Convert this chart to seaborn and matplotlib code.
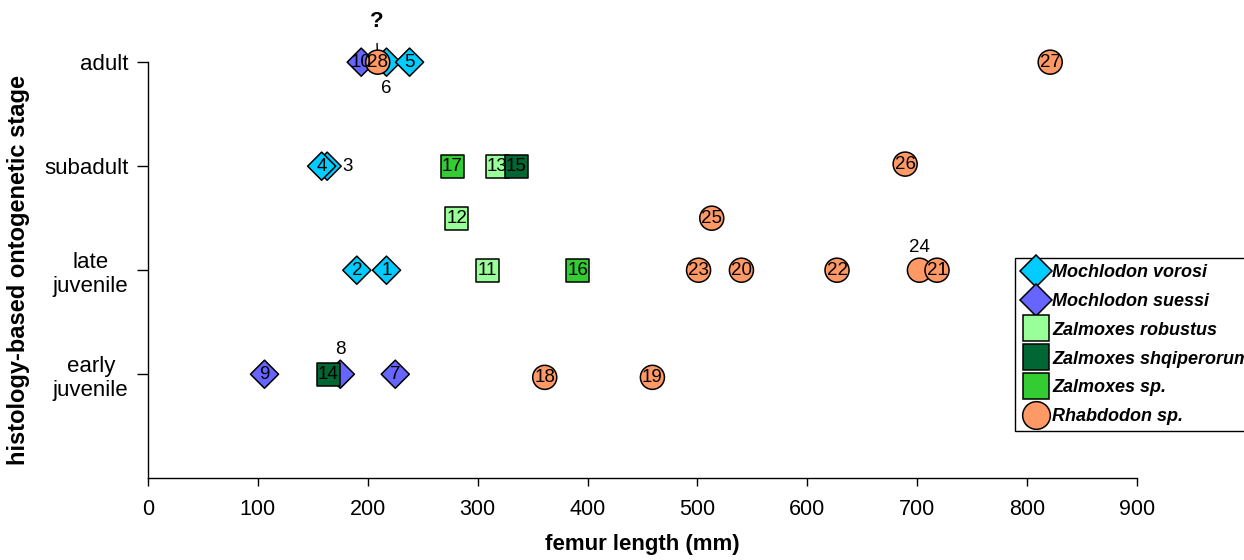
import pandas as pd
import seaborn as sns
from matplotlib import pyplot as plt

# specimen number, femur length (mm), ontogenetic stage (1=early juv ... 4=adult)
specimen = [1, 2, 3, 4, 5, 6, 7, 8, 9, 10, 11, 12, 13, 14,
            15, 16, 17, 18, 19, 20, 21, 22, 23, 24, 25, 26, 27, 28]
femur = [217, 190, 163, 158, 238, 217, 225, 175, 106, 194, 309, 281, 318, 164,
         335, 391, 277, 361, 459, 540, 718, 627, 501, 702, 513, 689, 821, 209]
stage = [2, 2, 3, 3, 4, 4, 1, 1, 1, 4, 2, 2.5, 3, 1,
         3, 2, 3, 0.97, 0.97, 2, 2, 2, 2, 2, 2.5, 3.02, 4, 4]
species = (['Mochlodon vorosi'] * 6 + ['Mochlodon suessi'] * 4
           + ['Zalmoxes robustus'] * 3 + ['Zalmoxes shqiperorum']
           + ['Zalmoxes shqiperorum'] + ['Zalmoxes sp.'] * 2
           + ['Rhabdodon sp.'] * 11)

taxa = ['Mochlodon vorosi', 'Mochlodon suessi', 'Zalmoxes robustus',
        'Zalmoxes shqiperorum', 'Zalmoxes sp.', 'Rhabdodon sp.']
colors = ['#00CCFF', '#6666FF', '#99FF99', '#006633', '#33CC33', '#FF9966']
shapes = ['D', 'D', 's', 's', 's', 'o']
areas = [205, 205, 270, 270, 270, 300]

stage_ticks = [1, 2, 3, 4]
stage_labels = ['early\njuvenile', 'late\njuvenile', 'subadult', 'adult']

# drawing order (later on top)
draw_order = [2, 1, 3, 4, 9, 8, 14, 7, 10, 6, 28, 5, 11, 12, 13, 15, 16, 17,
              18, 19, 20, 22, 23, 24, 21, 25, 26, 27]
# specimens whose number sits outside the marker: (dx, dy) in points
outside = {3: (15, 0), 6: (0, -19), 8: (0, 18), 24: (0, 16)}


def main():
    plt.rcParams['font.family'] = ['Liberation Sans', 'DejaVu Sans']
    df = pd.DataFrame({'n': specimen, 'femur': femur, 'stage': stage,
                       'species': species})
    df = df.set_index('n').loc[draw_order].reset_index()

    fig = plt.figure(figsize=(12.44, 5.6), dpi=100)
    ax = fig.add_axes([0.119, 0.146, 0.795, 0.743])

    sns.scatterplot(
        data=df, x='femur', y='stage', hue='species', style='species',
        size='species', hue_order=taxa, style_order=taxa, size_order=taxa,
        palette=dict(zip(taxa, colors)), markers=dict(zip(taxa, shapes)),
        sizes=dict(zip(taxa, areas)), edgecolor='black', linewidth=1.1,
        alpha=1, clip_on=False, zorder=2, ax=ax,
    )

    for n, x, y in zip(df['n'], df['femur'], df['stage']):
        if n in outside:
            dx, dy = outside[n]
            ax.annotate(str(n), xy=(x, y), xytext=(dx, dy),
                        textcoords='offset points', ha='center', va='center',
                        fontsize=13.5, zorder=1, annotation_clip=False,
                        arrowprops=dict(arrowstyle='-', lw=1, color='black',
                                        shrinkA=4, shrinkB=0))
        else:
            ax.text(x, y, str(n), ha='center', va='center', fontsize=13.5,
                    zorder=3, clip_on=False)

    ax.annotate('?', xy=(209, 4), xytext=(-1, 29), textcoords='offset points',
                ha='center', va='center', fontsize=16, fontweight='bold',
                zorder=1, annotation_clip=False,
                arrowprops=dict(arrowstyle='-', lw=1, color='black',
                                shrinkA=6, shrinkB=0))

    ax.set_xlim(0, 900)
    ax.set_ylim(0, 4)
    ax.set_xticks(range(0, 1000, 100))
    ax.set_yticks(stage_ticks)
    ax.set_yticklabels(stage_labels, ha='right', multialignment='center')
    ax.tick_params(axis='y', length=8, width=1, pad=6, labelsize=16)
    ax.tick_params(axis='x', length=6, width=1, pad=9, labelsize=15.5)
    for s in ax.spines.values():
        s.set_linewidth(1)
    sns.despine(ax=ax)

    ax.set_xlabel('femur length (mm)', fontsize=16, fontweight='bold',
                  labelpad=10)
    ax.set_ylabel('histology-based ontogenetic stage', fontsize=17,
                  fontweight='bold', labelpad=10)

    sns.move_legend(
        ax, loc='upper left', bbox_to_anchor=(1015 / 1244, 1 - 258 / 560),
        bbox_transform=fig.transFigure, title=None, frameon=True,
        fancybox=False, edgecolor='black', framealpha=1,
        prop=dict(weight='bold', style='italic', size=13),
        handletextpad=0.1, handlelength=1.6, labelspacing=0.65,
        borderpad=0.35, borderaxespad=0, markerscale=1.15,
    )
    ax.get_legend().get_frame().set_linewidth(1)

    fig.savefig('out.png', dpi=100)
    plt.close()


if __name__ == '__main__':
    main()
